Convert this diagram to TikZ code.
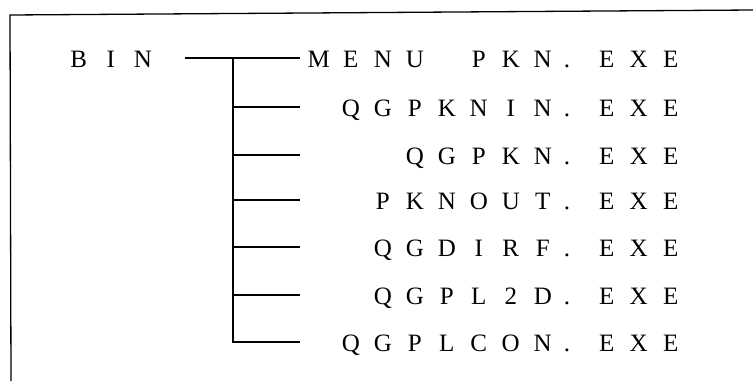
\documentclass[tikz,border=0pt]{standalone}
\usepackage{fontspec}
\setmainfont{Liberation Serif}
\newcommand\cc[1]{\makebox[32pt][c]{#1}}
\newcommand\pd{\makebox[32pt][l]{\hspace{5pt}.}}
\newcommand\blankcell{\makebox[32pt]{}}
\tikzset{
  fname/.style={anchor=base east,inner sep=0pt,font=\fontsize{25}{25}\selectfont},
  wire/.style={line width=1.3pt},
  frame/.style={line width=1.3pt}
}
\begin{document}
\begin{tikzpicture}[x=1pt,y=-1pt]
\useasboundingbox (0,0) rectangle (753,381);
% frame (top and left only)
\coordinate (fl) at (10,15);
\coordinate (fr) at (753,10);
\coordinate (fb) at (11,381);
\draw[frame] (fr) -- (fl) -- (fb);
% labels
\node[fname] (bin) at (159,67) {\cc{B}\cc{I}\cc{N}};
\node[fname] (f1) at (687,67) {\cc{M}\cc{E}\cc{N}\cc{U}\blankcell\cc{P}\cc{K}\cc{N}\pd\cc{E}\cc{X}\cc{E}};
\node[fname] (f2) at (687,116) {\cc{Q}\cc{G}\cc{P}\cc{K}\cc{N}\cc{I}\cc{N}\pd\cc{E}\cc{X}\cc{E}};
\node[fname] (f3) at (687,164) {\cc{Q}\cc{G}\cc{P}\cc{K}\cc{N}\pd\cc{E}\cc{X}\cc{E}};
\node[fname] (f4) at (687,209) {\cc{P}\cc{K}\cc{N}\cc{O}\cc{U}\cc{T}\pd\cc{E}\cc{X}\cc{E}};
\node[fname] (f5) at (687,256) {\cc{Q}\cc{G}\cc{D}\cc{I}\cc{R}\cc{F}\pd\cc{E}\cc{X}\cc{E}};
\node[fname] (f6) at (687,304) {\cc{Q}\cc{G}\cc{P}\cc{L}\cc{2}\cc{D}\pd\cc{E}\cc{X}\cc{E}};
\node[fname] (f7) at (687,351) {\cc{Q}\cc{G}\cc{P}\cc{L}\cc{C}\cc{O}\cc{N}\pd\cc{E}\cc{X}\cc{E}};
% tree coordinates
\coordinate (s0) at (185,58);
\foreach \i/\y in {1/58,2/107,3/155,4/200,5/247,6/295,7/342}{
  \coordinate (j\i) at (233,\y);
  \coordinate (e\i) at (300,\y);
}
\draw[wire] (s0) -- (e1);
\draw[wire] (j1) -- (j7) -- (e7);
\foreach \i in {2,...,6}{\draw[wire] (j\i) -- (e\i);}
\end{tikzpicture}
\end{document}
